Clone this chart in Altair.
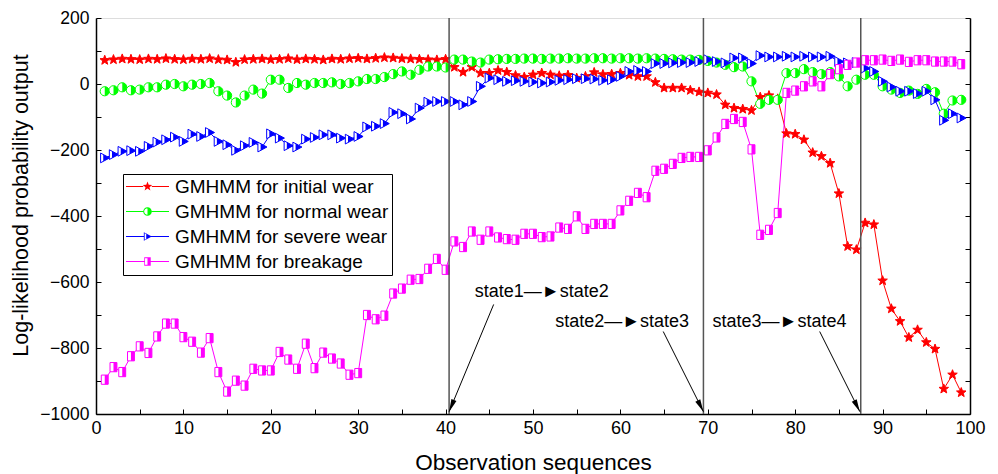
import math
import altair as alt
import pandas as pd

# ---------------- data ----------------
x_values = list(range(1, 100))

initial_wear = [72, 74, 76, 75, 74, 76, 75, 77, 75, 74, 76, 75, 77, 74, 73, 66, 74, 75, 76, 74,
                75, 77, 74, 76, 75, 73, 76, 75, 77, 78, 76, 78, 80, 79, 77, 76, 75, 74, 73, 75,
                51, 36, 51, 33, 33, 41, 36, 26, 21, 28, 33, 28, 25, 27, 18, 23, 35, 29, 30, 33,
                27, 23, 23, 5, -12, -12, -12, -19, -24, -27, -32, -63, -73, -76, -80, -40, -35, -45,
                -150, -152, -169, -208, -219, -240, -332, -492, -502, -421, -426, -596, -681, -719,
                -768, -745, -783, -803, -924, -881, -935]

normal_wear = [-22, -19, -10, -19, -17, -10, -10, -2, 0, -7, -2, 0, 3, -22, -35, -56, -35, -17, -29, 13,
               13, -12, 3, -2, 3, 3, 5, 0, 3, 8, 15, 15, 21, 30, 38, 28, 43, 53, 53, 50,
               74, 74, 68, 65, 74, 75, 76, 76, 77, 77, 76, 77, 77, 78, 77, 77, 78, 78, 77, 78,
               78, 77, 78, 77, 76, 75, 74, 74, 73, 70, 65, 58, 51, 53, 8, -60, -48, -48, 33, 33,
               45, 36, 30, 36, 23, -7, 13, 28, 28, -7, -17, -27, -20, -30, -15, -25, -90, -50, -48]

severe_wear = [-224, -214, -204, -202, -204, -189, -176, -169, -161, -174, -152, -159, -147, -174, -184,
               -201, -187, -177, -191, -151, -164, -187, -191, -167, -162, -154, -154, -164, -167, -159,
               -130, -128, -120, -86, -90, -106, -73, -55, -53, -53,
               -53, -63, -53, -7, 18, 13, 8, 10, 8, 6, 3, 6, 11, 13, 16, 16, 15, 11, 13, 23,
               38, 41, 38, 62, 62, 64, 65, 65, 68, 74, 68,
               64, 79, 79, 62, 86, 82, 82, 84, 82, 84, 82, 82, 84, 68, 64, 65, 48, 38, 8, -9,
               -22, -22, -29, -22, -48, -110, -90, -103]

breakage = [-896, -858, -873, -825, -795, -815, -765, -726, -726, -767, -781, -814, -770, -873, -932,
            -899, -914, -863, -868, -868, -812, -835, -863, -787, -861, -814, -832, -847, -881, -876,
            -700, -713, -702, -635, -620, -593, -591, -560, -530, -563,
            -477, -494, -447, -472, -447, -465, -470, -472, -454, -454, -464, -462, -435, -439, -401,
            -439, -424, -424, -424, -383, -354, -330, -343, -263, -257, -242, -224, -221, -221, -201,
            -162, -121, -106, -115, -198, -457, -442, -391,
            -27, -20, -7, 8, -7, 30, 45, 58, 65, 72, 72, 74, 70, 74, 67, 72, 72, 68, 68, 68, 60]

series_names = ["GMHMM for initial wear", "GMHMM for normal wear",
                "GMHMM for severe wear", "GMHMM for breakage"]
series_values = [initial_wear, normal_wear, severe_wear, breakage]

transition_x = [40.4, 69.5, 87.5]

annot_text = ["state1\u2014\u25BAstate2", "state2\u2014\u25BAstate3", "state3\u2014\u25BAstate4"]
annot_x = [51.0, 60.2, 78.2]
annot_y = [-629, -721, -721]
arrow_x1 = [45.5, 64.9, 82.8]
arrow_y1 = [-668, -750, -750]
arrow_x2 = [40.4, 69.5, 87.4]
arrow_y2 = [-993, -993, -993]

x_ticks = list(range(0, 101, 10))
x_minor = list(range(0, 101, 5))
y_ticks = list(range(-1000, 201, 200))
y_minor = list(range(-1000, 201, 100))

# ---------------- styling ----------------
W, H = 874, 396
FONT = "Liberation Sans"
colors = ["#ff0000", "#00ff00", "#0000ff", "#ff00ff"]


def poly(pts):
    return "M" + "L".join(f"{x:.3f},{y:.3f}" for x, y in pts) + "Z"


def scaled(pts, s):
    return [(x * s, y * s) for x, y in pts]


star_pts = []
for k in range(10):
    r = 1.0 if k % 2 == 0 else 0.42
    a = math.radians(-90 + 36 * k)
    star_pts.append((r * math.cos(a), r * math.sin(a)))
tri_pts = [(-0.85, -1), (1, 0), (-0.85, 1)]
tri_half_pts = [(-0.3, -0.703), (1, 0), (-0.3, 0.703)]
sq_pts = [(-0.75, -1), (0.75, -1), (0.75, 1), (-0.75, 1)]
sq_half_pts = [(0, -1), (0.75, -1), (0.75, 1), (0, 1)]


def circ(r, sweep):
    return f"M{-r},0A{r},{r} 0 0,{sweep} {r},0A{r},{r} 0 0,{sweep} {-r},0Z"


def half_circ(r):
    return f"M0,{-r}A{r},{r} 0 0,1 0,{r}Z"


full_paths = [poly(star_pts), circ(1, 1), poly(tri_pts), poly(sq_pts)]
half_paths = [None, half_circ(1), poly(tri_half_pts), poly(sq_half_pts)]
marker_sizes = [100, 85, 95, 85]

# legend symbols: line + marker (outline ring + right half)
R, RI = 0.2, 0.155
t = 0.022


def line_parts(r):
    return (poly([(-1, -t), (-r, -t), (-r, t), (-1, t)]) +
            poly([(r, -t), (1, -t), (1, t), (r, t)]))


legend_paths = [
    line_parts(0.2) + poly(scaled(star_pts, 0.23)),
    line_parts(R) + circ(R, 1) + circ(RI, 0) + half_circ(R),
    line_parts(0.17) + poly(scaled(tri_pts, R)) + poly(list(reversed(scaled(tri_pts, RI)))) + poly(scaled(tri_half_pts, R)),
    line_parts(0.15) + poly(scaled(sq_pts, R)) + poly(list(reversed(scaled(sq_pts, RI)))) + poly(scaled(sq_half_pts, R)),
]

arrow_head = "M0,0L0.37,1.7L-0.37,1.7Z"

# ---------------- tables ----------------
rows = []
for name, vals in zip(series_names, series_values):
    for xv, v in zip(x_values, vals):
        rows.append({"x": xv, "value": v, "series": name})
df = pd.DataFrame(rows)

vl_df = pd.DataFrame({"x": transition_x})

px_x, px_y = W / 100.0, H / 1200.0
angles = []
for x1, y1, x2, y2 in zip(arrow_x1, arrow_y1, arrow_x2, arrow_y2):
    dx = (x2 - x1) * px_x
    dy = -(y2 - y1) * px_y
    angles.append(math.degrees(math.atan2(dx, -dy)) % 360)
arr_df = pd.DataFrame({"x1": arrow_x1, "y1": arrow_y1, "x2": arrow_x2, "y2": arrow_y2, "angle": angles})
txt_df = pd.DataFrame({"x": annot_x, "y": annot_y, "text": annot_text})

xs = alt.Scale(domain=[0, 100], nice=False, zero=False)
ys = alt.Scale(domain=[-1000, 200], nice=False, zero=False)
color_scale = alt.Scale(domain=series_names, range=colors)

main_x_axis = alt.Axis(values=x_ticks, format="d", ticks=False, grid=False, domainColor="black",
                       domainWidth=1.5, labelFontSize=18, labelPadding=5, labelColor="black",
                       labelFont=FONT, title="Observation sequences", titleFont=FONT,
                       titleFontSize=22.5, titleFontWeight="normal", titleColor="black",
                       titlePadding=14, labelFlush=False)
main_y_axis = alt.Axis(values=y_ticks, format="d", ticks=False, grid=False, domainColor="black",
                       domainWidth=1.5, labelFontSize=17.5, labelPadding=7, labelColor="black",
                       labelFont=FONT, title="Log-likelihood probability output", titleFont=FONT,
                       titleFontSize=21.5, titleFontWeight="normal", titleColor="black",
                       titleX=-75, titleY=187, titleBaseline="middle", titleAlign="center",
                       labelFlush=False)

line_layers = []
point_layers = []
for name, col, fp, hp, sz in zip(series_names, colors, full_paths, half_paths, marker_sizes):
    first = len(line_layers) == 0
    line_layers.append(
        alt.Chart(df).transform_filter(alt.datum.series == name).mark_line(
            strokeWidth=1, color=col
        ).encode(
            x=alt.X("x:Q", scale=xs, axis=main_x_axis if first else None),
            y=alt.Y("value:Q", scale=ys, axis=main_y_axis if first else None),
        )
    )
    base_fill = col if hp is None else "white"
    base = alt.Chart(df).transform_filter(alt.datum.series == name).mark_point(
        shape=fp, size=sz, filled=True, fill=base_fill, stroke=col, strokeWidth=1, opacity=1
    ).encode(x=alt.X("x:Q", scale=xs, axis=None), y=alt.Y("value:Q", scale=ys, axis=None))
    point_layers.append(base)
    if hp is not None:
        half = alt.Chart(df).transform_filter(alt.datum.series == name).mark_point(
            shape=hp, size=sz, filled=True, fill=col, strokeWidth=0, opacity=1
        ).encode(x=alt.X("x:Q", scale=xs, axis=None), y=alt.Y("value:Q", scale=ys, axis=None))
        point_layers.append(half)

legend_cfg = dict(orient="none", legendX=27, legendY=156, title=None, strokeColor="black",
                  fillColor="white", padding=3, symbolSize=1849, clipHeight=19, rowPadding=5,
                  labelFont=FONT, labelFontSize=19, labelOffset=6, labelColor="black",
                  symbolStrokeWidth=0, symbolOpacity=1, labelLimit=400)

legend_layer = alt.Chart(df).transform_filter("datum.x < 0").mark_point(
    filled=True, opacity=1, strokeWidth=0
).encode(
    x=alt.X("x:Q", scale=xs, axis=None),
    y=alt.Y("value:Q", scale=ys, axis=None),
    color=alt.Color("series:N", scale=color_scale, legend=alt.Legend(**legend_cfg)),
    shape=alt.Shape("series:N", scale=alt.Scale(domain=series_names, range=legend_paths),
                    legend=alt.Legend(**legend_cfg)),
)

vlines = alt.Chart(vl_df).mark_rule(color="#555555", strokeWidth=1.5).encode(
    x=alt.X("x:Q", scale=xs, axis=None)
)

arrows = alt.Chart(arr_df).mark_rule(color="black", strokeWidth=1).encode(
    x=alt.X("x1:Q", scale=xs, axis=None), y=alt.Y("y1:Q", scale=ys, axis=None),
    x2="x2:Q", y2="y2:Q",
)
heads = alt.Chart(arr_df).mark_point(shape=arrow_head, size=220, filled=True, color="black",
                                     opacity=1, strokeWidth=0).encode(
    x=alt.X("x2:Q", scale=xs, axis=None), y=alt.Y("y2:Q", scale=ys, axis=None),
    angle=alt.Angle("angle:Q", scale=None),
)
texts = alt.Chart(txt_df).mark_text(font=FONT, fontSize=18, color="black").encode(
    x=alt.X("x:Q", scale=xs, axis=None), y=alt.Y("y:Q", scale=ys, axis=None), text="text:N"
)

inner_ticks = alt.Chart(df).transform_filter("datum.x < 0").mark_point().encode(
    x=alt.X("x:Q", scale=xs, axis=alt.Axis(orient="top", offset=-H, values=x_minor, labels=False,
                                           domain=False, ticks=True, tickSize=5, tickColor="black",
                                           grid=False, title=None)),
    y=alt.Y("value:Q", scale=ys, axis=alt.Axis(orient="right", offset=-W, values=y_minor, labels=False,
                                               domain=False, ticks=True, tickSize=5, tickColor="black",
                                               grid=False, title=None)),
)
right_axis = alt.Chart(df).transform_filter("datum.x < 0").mark_point().encode(
    x=alt.X("x:Q", scale=xs, axis=None),
    y=alt.Y("value:Q", scale=ys, axis=alt.Axis(orient="left", offset=-W, values=y_minor, labels=False,
                                               domain=True, domainColor="black", domainWidth=1.5,
                                               ticks=True, tickSize=5, tickColor="black",
                                               grid=False, title=None)),
)

chart = alt.layer(
    *line_layers, *point_layers, vlines, arrows, heads, texts, legend_layer, inner_ticks, right_axis
).resolve_axis(x="independent", y="independent").properties(
    width=W, height=H,
    padding={"left": 96, "top": 18, "right": 28, "bottom": 60},
    autosize=alt.AutoSizeParams(type="none"),
).configure_view(stroke=None).configure(font=FONT, background="white")

chart.save("out.html", embed_options={"renderer": "svg", "actions": False})
